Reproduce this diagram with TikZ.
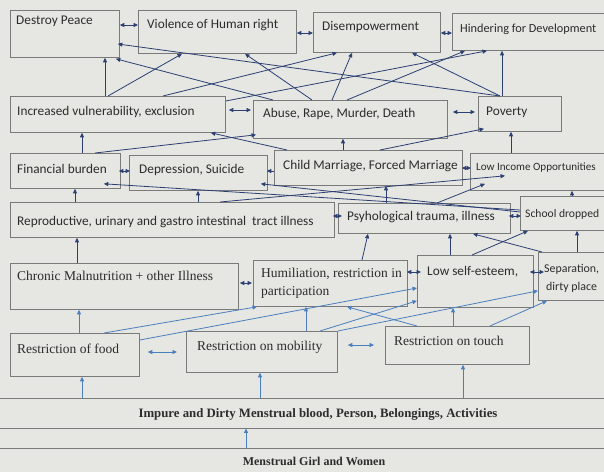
\documentclass[tikz,border=0pt]{standalone}
\usepackage{fontspec}
\setmainfont{Liberation Serif}
\newfontfamily\calib{Carlito}
\usetikzlibrary{arrows.meta}
\definecolor{bg}{HTML}{E6E6E2}
\definecolor{frame}{HTML}{7A7A7A}
\definecolor{navy}{HTML}{2B3F73}
\definecolor{lblue}{HTML}{4A7FBF}
\definecolor{ink}{HTML}{2C2C2C}
\tikzset{
 box/.style={draw=frame, line width=0.8pt, rectangle, inner sep=0pt, anchor=north west},
 stxt/.style={font=\calib\fontsize{13.3}{15}\selectfont, text=ink, inner sep=0pt, anchor=base west},
 sstxt/.style={stxt, font=\calib\fontsize{11.9}{14}\selectfont},
 rtxt/.style={font=\fontsize{13.5}{15}\selectfont, text=ink, inner sep=0pt, anchor=base west},
 btxt/.style={font=\bfseries\fontsize{12}{14}\selectfont, text=ink, inner sep=0pt, anchor=base},
 arr/.style={draw=navy, line width=0.8pt, -{Triangle[length=4.5pt,width=4pt]}},
 darr/.style={draw=navy, line width=0.8pt, {Triangle[length=4.5pt,width=4pt]}-{Triangle[length=4.5pt,width=4pt]}},
 larr/.style={arr, draw=lblue},
 ldarr/.style={darr, draw=lblue},
}
\newcommand{\mkbox}[5]{\node[box, minimum width=#4pt, minimum height=#5pt] (#1) at (#2,#3) {};}
\begin{document}
\begin{tikzpicture}[x=1pt,y=-1pt]
\useasboundingbox (0,0) rectangle (604,472);
\clip (0,0) rectangle (604,472);
\fill[bg] (0,0) rectangle (604,472);
% boxes
\mkbox{dp}{10}{10}{109}{47}
\mkbox{vh}{138}{10}{158}{43}
\mkbox{dis}{313}{12}{127}{40}
\mkbox{hd}{452}{13}{160}{37}
\mkbox{iv}{10}{96}{215}{36}
\mkbox{ab}{253}{100}{194}{38}
\mkbox{pov}{478}{96}{83}{35}
\mkbox{fb}{10}{153}{110}{35}
\mkbox{dep}{129}{155}{138}{35}
\mkbox{cm}{274}{150}{188}{35}
\mkbox{li}{470}{153}{142}{37}
\mkbox{rep}{10}{202}{324}{35}
\mkbox{psy}{338}{203}{172}{30}
\mkbox{sch}{520}{196}{92}{34}
\mkbox{chr}{10}{263}{228}{46}
\mkbox{hum}{253}{260}{154}{46}
\mkbox{lse}{417}{255}{116}{52}
\mkbox{sep}{538}{252}{74}{48}
\mkbox{rf}{10}{333}{129}{43}
\mkbox{rm}{186}{331}{151}{41}
\mkbox{rt}{385}{326}{144}{38}
% texts
\node[stxt] (dpT) at (16,24) {Destroy Peace};
\node[stxt] (vhT) at (147,28) {Violence of Human right};
\node[stxt] (disT) at (322,30) {Disempowerment};
\node[sstxt, font=\calib\fontsize{12.3}{14}\selectfont] (hdT) at (460,32) {Hindering for Development};
\node[stxt] (ivT) at (17,115) {Increased vulnerability, exclusion};
\node[stxt] (abT) at (263,117) {Abuse, Rape, Murder, Death};
\node[stxt] (povT) at (486,115) {Poverty};
\node[stxt] (fbT) at (17,173) {Financial burden};
\node[stxt] (depT) at (139,173) {Depression, Suicide};
\node[stxt] (cmT) at (283,169) {Child Marriage, Forced Marriage};
\node[sstxt, font=\calib\fontsize{11.1}{13}\selectfont] (liT) at (476,170) {Low Income Opportunities};
\node[stxt] (repT) at (17,225) {Reproductive, urinary and gastro intestinal\ \ tract illness};
\node[stxt] (psyT) at (347,220) {Psyhological trauma, illness};
\node[sstxt, font=\calib\fontsize{11.6}{13}\selectfont] (schT) at (525,217) {School dropped};
\node[rtxt] (chrT) at (17,280) {Chronic Malnutrition + other Illness};
\node[rtxt] (humT1) at (261,277) {Humiliation, restriction in};
\node[rtxt] (humT2) at (261,295) {participation};
\node[stxt] (lseT) at (427,275) {Low self-esteem,};
\node[sstxt] (sepT1) at (544,272) {Separation,};
\node[sstxt] (sepT2) at (546,290) {dirty place};
\node[rtxt] (rfT) at (17,353) {Restriction of food};
\node[rtxt] (rmT) at (197,350) {Restriction on mobility};
\node[rtxt] (rtT) at (394,345) {Restriction on touch};
% band
\node[draw=frame, line width=0.8pt, minimum width=640pt, minimum height=30pt, inner sep=0pt] (imp) at (302,413) {};
\node[draw=frame, line width=0.8pt, minimum width=640pt, minimum height=40pt, inner sep=0pt] (men) at (302,468) {};
\node[btxt, font=\bfseries\fontsize{12.8}{14}\selectfont] (impT) at (318,417) {Impure and Dirty Menstrual blood, Person, Belongings, Activities};
\node[btxt] (menT) at (314,465) {Menstrual Girl and Women};
% row 1 connectors
\draw[arr] ([shift={(95,0)}]iv.north west) -- ([shift={(95,0)}]dp.south west);
\draw[arr] ([shift={(22,0)}]pov.north west) -- ([shift={(-2,34)}]dp.north east);
\draw[arr] ([shift={(20,0)}]ab.north west) -- ([shift={(-4,1)}]dp.south east);
\draw[arr] ([shift={(98,0)}]iv.north west) -- ([shift={(44,0)}]vh.south west);
\draw[arr] ([shift={(59,0)}]ab.north west) -- ([shift={(107,0)}]vh.south west);
\draw[arr] ([shift={(153,0)}]iv.north west) -- ([shift={(24,0)}]dis.south west);
\draw[arr] ([shift={(79,0)}]ab.north west) -- ([shift={(39,0)}]dis.south west);
\draw[arr] ([shift={(22,0)}]pov.north west) -- ([shift={(99,0)}]dis.south west);
\draw[arr] ([shift={(0,5)}]iv.north east) -- ([shift={(35,0)}]hd.south west);
\draw[arr] ([shift={(94,0)}]ab.north west) -- ([shift={(13,0)}]hd.south west);
\draw[arr] ([shift={(24,0)}]pov.north west) -- ([shift={(50,0)}]hd.south west);
\draw[darr] ([shift={(0,15)}]dp.north east) -- ([shift={(0,15)}]vh.north west);
\draw[darr] ([shift={(0,23)}]vh.north east) -- ([shift={(0,21)}]dis.north west);
\draw[darr] ([shift={(0,21)}]dis.north east) -- ([shift={(0,20)}]hd.north west);
% row 2
\draw[darr] ([shift={(3,14)}]iv.north east) -- ([shift={(-2,10)}]ab.north west);
\draw[darr] ([shift={(5,12)}]ab.north east) -- ([shift={(-3,16)}]pov.north west);
\draw[arr] ([shift={(72,0)}]fb.north west) -- ([shift={(72,0)}]iv.south west);
\draw[arr] ([shift={(69,0)}]cm.north west) -- ([shift={(90,0)}]ab.south west);
\draw[arr] ([shift={(41,0)}]li.north west) -- ([shift={(33,0)}]pov.south west);
\draw[arr] ([shift={(13,0)}]cm.north west) -- ([shift={(-15,0)}]iv.south east);
\draw[arr] ([shift={(85,0)}]fb.north west) -- ([shift={(3,-4)}]ab.south west);
\draw[arr] ([shift={(106,0)}]cm.north west) -- ([shift={(6,-3)}]pov.south west);
% row 3
\draw[darr] ([shift={(-2,18)}]fb.north east) -- ([shift={(1,16)}]dep.north west);
\draw[arr] ([shift={(0,21)}]cm.north west) -- ([shift={(-1,16)}]dep.north east);
\draw[darr] ([shift={(-1,18)}]cm.north east) -- ([shift={(1,15)}]li.north west);
\draw[arr] ([shift={(65,0)}]rep.north west) -- ([shift={(65,0)}]fb.south west);
\draw[arr] ([shift={(188,0)}]rep.north west) -- ([shift={(69,0)}]dep.south west);
\draw[arr] ([shift={(48,0)}]psy.north west) -- ([shift={(112,0)}]cm.south west);
\draw[arr] ([shift={(52,0)}]sch.north west) -- ([shift={(102,0)}]li.south west);
\draw[arr] ([shift={(0,14)}]sch.north west) -- ([shift={(-17,-5)}]fb.south east);
\draw[arr] ([shift={(0,16)}]sch.north west) -- ([shift={(-7,-7)}]dep.south east);
\draw[arr] ([shift={(210,0)}]rep.north west) -- ([shift={(35,-15)}]li.south west);
\draw[arr] ([shift={(99,0)}]psy.north west) -- ([shift={(15,-7)}]li.south west);
% row 4
\draw[darr] ([shift={(-2,14)}]rep.north east) -- ([shift={(4,13)}]psy.north west);
\draw[darr] ([shift={(-2,13)}]psy.north east) -- ([shift={(1,20)}]sch.north west);
\draw[arr] ([shift={(67,0)}]chr.north west) -- ([shift={(67,0)}]rep.south west);
\draw[arr] ([shift={(109,0)}]hum.north west) -- ([shift={(30,0)}]psy.south west);
\draw[arr] ([shift={(33,0)}]lse.north west) -- ([shift={(112,0)}]psy.south west);
\draw[arr] ([shift={(4,0)}]sep.north west) -- ([shift={(135,0)}]psy.south west);
\draw[arr] ([shift={(55,0)}]lse.north west) -- ([shift={(8,0)}]sch.south west);
\draw[arr] ([shift={(39,0)}]sep.north west) -- ([shift={(57,0)}]sch.south west);
% row 5
\draw[darr] ([shift={(1,20)}]chr.north east) -- ([shift={(-1,23)}]hum.north west);
\draw[darr] ([shift={(-1,12)}]hum.north east) -- ([shift={(4,17)}]lse.north west);
\draw[darr] ([shift={(-4,17)}]lse.north east) -- ([shift={(6,20)}]sep.north west);
% row 6
\draw[larr] ([shift={(69,0)}]rf.north west) -- ([shift={(69,0)}]chr.south west);
\draw[larr] ([shift={(94,0)}]rf.north west) -- ([shift={(4,0)}]hum.south west);
\draw[larr] ([shift={(0,7)}]rf.north east) -- ([shift={(0,33)}]lse.north west);
\draw[larr] ([shift={(120,0)}]rm.north west) -- ([shift={(53,0)}]hum.south west);
\draw[larr] ([shift={(134,0)}]rm.north west) -- ([shift={(0,-7)}]lse.south west);
\draw[larr] (rm.north east) -- ([shift={(0,-10)}]sep.south west);
\draw[larr] ([shift={(32,0)}]rt.north west) -- ([shift={(94,0)}]hum.south west);
\draw[larr] ([shift={(68,0)}]rt.north west) -- ([shift={(36,0)}]lse.south west);
\draw[larr] ([shift={(105,0)}]rt.north west) -- ([shift={(9,0)}]sep.south west);
\draw[ldarr] ([shift={(8,19)}]rf.north east) -- ([shift={(-9,21)}]rm.north west);
\draw[ldarr] ([shift={(10,14)}]rm.north east) -- ([shift={(-11,19)}]rt.north west);
% band arrows
\draw[larr] ([shift={(-56,0)}]men.north) -- ([shift={(-56,0)}]imp.south);
\draw[larr] ([shift={(-220,0)}]imp.north) -- ([shift={(72,0)}]rf.south west);
\draw[larr] ([shift={(-42,0)}]imp.north) -- ([shift={(74,0)}]rm.south west);
\draw[larr] ([shift={(161,0)}]imp.north) -- ([shift={(78,0)}]rt.south west);
\end{tikzpicture}
\end{document}
